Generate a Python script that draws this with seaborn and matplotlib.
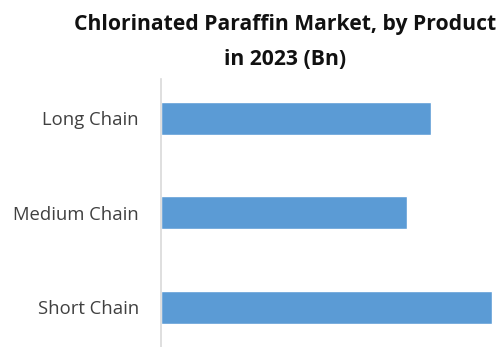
import matplotlib
matplotlib.use("Agg")
import matplotlib.pyplot as plt
import seaborn as sns
import pandas as pd

# Market size by product type, 2023 (USD Bn)
products = ["Long Chain", "Medium Chain", "Short Chain"]
values = [2.70, 2.46, 3.31]

title_text = "Chlorinated Paraffin Market, by Product\nin 2023 (Bn)"
bar_color = "#5B9BD5"
label_color = "#404040"
axis_color = "#D9D9D9"

sns.set_theme(style="white")
plt.rcParams["font.family"] = ["Open Sans", "DejaVu Sans"]

df = pd.DataFrame({"Product": products, "Value": values})

W, H = 501, 347
fig = plt.figure(figsize=(W / 100, H / 100), dpi=100)
ax = fig.add_axes([161 / W, 0, (W - 161) / W, 1 - 79 / H])

sns.barplot(data=df, y="Product", x="Value", orient="h", color=bar_color,
            saturation=1, width=0.35, ax=ax)

ax.set_xlim(0, 3.40)
ax.set_ylim(2.42, -0.416)
ax.set_xlabel("")
ax.set_ylabel("")
ax.set_xticks([])
ax.tick_params(axis="y", length=0, pad=16, labelsize=13.3, labelcolor=label_color)

for side in ["top", "right", "bottom"]:
    ax.spines[side].set_visible(False)
ax.spines["left"].set_color(axis_color)
ax.spines["left"].set_linewidth(1.2)

fig.text(285 / W, 1 - 14 / H, title_text, ha="center", va="top",
         fontsize=15.2, fontweight="bold", color="#111111", linespacing=1.85)

fig.savefig("out.png", dpi=100)
